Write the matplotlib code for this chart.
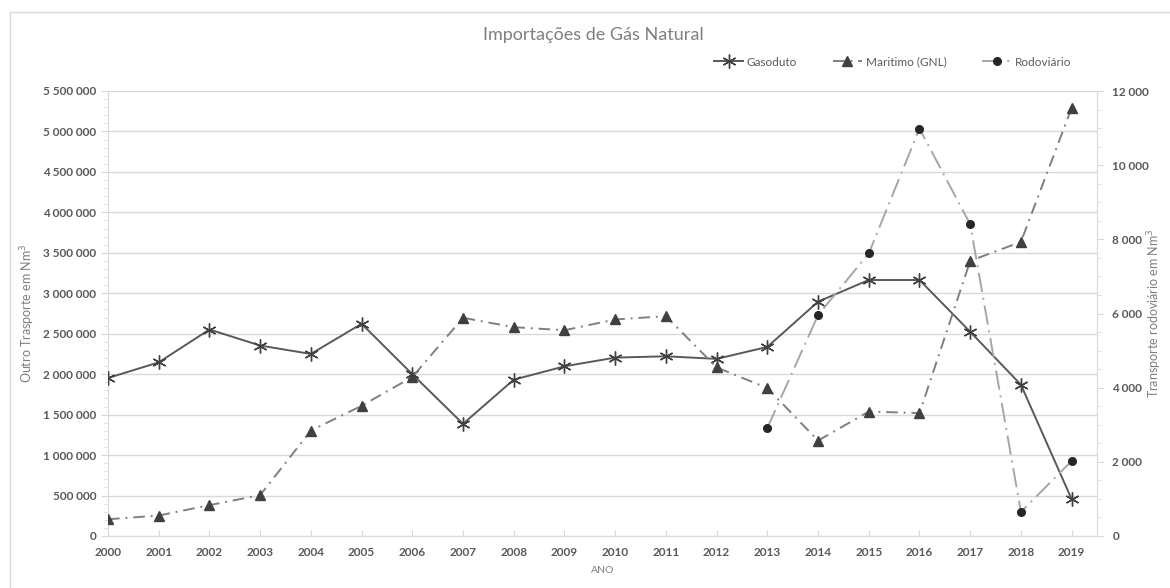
import matplotlib
matplotlib.use("Agg")
import matplotlib.pyplot as plt
from matplotlib.patches import Rectangle
from matplotlib.ticker import FuncFormatter, MultipleLocator

plt.rcParams['font.family'] = ['Lato', 'DejaVu Sans']

anos = list(range(2000, 2020))
gasoduto = [1953000, 2146000, 2552000, 2354000, 2250000, 2623000, 2000000, 1386000,
            1932000, 2097000, 2205000, 2221000, 2189000, 2337000, 2896000, 3164000,
            3164000, 2524000, 1870000, 455000]
maritimo = [207000, 253000, 381000, 505000, 1303000, 1609000, 1965000, 2697000,
            2581000, 2543000, 2676000, 2717000, 2084000, 1829000, 1179000, 1538000,
            1519000, 3400000, 3635000, 5290000]
anos_rodo = [2013, 2014, 2015, 2016, 2017, 2018, 2019]
rodoviario = [2915, 5957, 7622, 10985, 8405, 648, 2024]

txt = '#595959'
grid = '#d9d9d9'


def espacos(v, pos=None):
    return f"{int(round(v)):,}".replace(",", " ")


fig = plt.figure(figsize=(11.7, 5.88), dpi=100)
ax = fig.add_axes([108 / 1170, 52 / 588, (1097 - 108) / 1170, 445 / 588])
ax2 = ax.twinx()

ax.plot(anos, gasoduto, color='#595959', lw=1.4, marker=(6, 2, 0), ms=10,
        mec='#404040', mew=1.0, label='Gasoduto', zorder=3)
ax.plot(anos, maritimo, color='#7f7f7f', lw=1.4, dashes=(6, 3, 1, 3), marker='^',
        ms=6.5, mfc='#404040', mec='#404040', label='Maritimo (GNL)', zorder=3)
ax2.plot(anos_rodo, rodoviario, color='#a6a6a6', lw=1.4, dashes=(10, 3, 1, 3),
         marker='o', ms=5.5, mfc='#262626', mec='#262626', label='Rodoviário', zorder=3)

ax.set_xlim(2000, 2019.5)
ax.set_ylim(0, 5500000)
ax2.set_ylim(0, 12000)

ax.set_xticks(anos)
ax.set_xticklabels([str(a) for a in anos])
ax.yaxis.set_major_locator(MultipleLocator(500000))
ax.yaxis.set_minor_locator(MultipleLocator(100000))
ax.yaxis.set_major_formatter(FuncFormatter(espacos))
ax2.yaxis.set_major_locator(MultipleLocator(2000))
ax2.yaxis.set_minor_locator(MultipleLocator(500))
ax2.yaxis.set_major_formatter(FuncFormatter(espacos))

ax.grid(axis='y', color=grid, lw=1.0)
ax.set_axisbelow(True)

for a in (ax, ax2):
    for s in a.spines.values():
        s.set_visible(False)
ax.spines['bottom'].set_visible(True)
ax.spines['bottom'].set_color(grid)
ax.spines['left'].set_visible(True)
ax.spines['left'].set_color(grid)
ax2.spines['right'].set_visible(True)
ax2.spines['right'].set_color(grid)

ax.tick_params(axis='x', direction='in', length=4, color=grid, labelcolor=txt,
               labelsize=8.5, pad=8)
ax.tick_params(axis='y', which='both', direction='out', color=grid, labelcolor=txt,
               labelsize=8.5)
ax.tick_params(axis='y', which='major', length=5)
ax.tick_params(axis='y', which='minor', length=3)
ax2.tick_params(axis='y', which='both', direction='out', color=grid, labelcolor=txt,
                labelsize=8.5, pad=6)
ax2.tick_params(axis='y', which='major', length=5)
ax2.tick_params(axis='y', which='minor', length=3)
for lbl in ax.get_xticklabels() + ax.get_yticklabels() + ax2.get_yticklabels():
    lbl.set_fontweight('bold')

ax.set_ylabel('Outro Trasporte em Nm$^3$', color='#7f7f7f', fontsize=9)
ax.yaxis.set_label_coords(-0.072, 0.5)
ax2.set_ylabel('Transporte rodoviário em Nm$^3$', color='#7f7f7f', fontsize=9)
ax2.yaxis.set_label_coords(1.049, 0.5)
ax.set_xlabel('ANO', color='#7f7f7f', fontsize=7.5, labelpad=6)

fig.text(593 / 1170, 1 - 35 / 588, 'Importações de Gás Natural', ha='center',
         va='center', color='#7f7f7f', fontsize=13)

h1, l1 = ax.get_legend_handles_labels()
h2, l2 = ax2.get_legend_handles_labels()
fig.legend(h1 + h2, l1 + l2, loc='center right', bbox_to_anchor=(1082 / 1170, 1 - 62 / 588),
           ncol=3, frameon=False, fontsize=8.5, labelcolor=txt, handlelength=2.5,
           handletextpad=0.3, columnspacing=3.0)

# borda da área do gráfico
fig.patches.append(Rectangle((9.5 / 1170, -0.1), 1.2, 1.1 - 12.5 / 588,
                             transform=fig.transFigure, fill=False,
                             edgecolor=grid, lw=1.0))

fig.savefig('out.png', dpi=100)
